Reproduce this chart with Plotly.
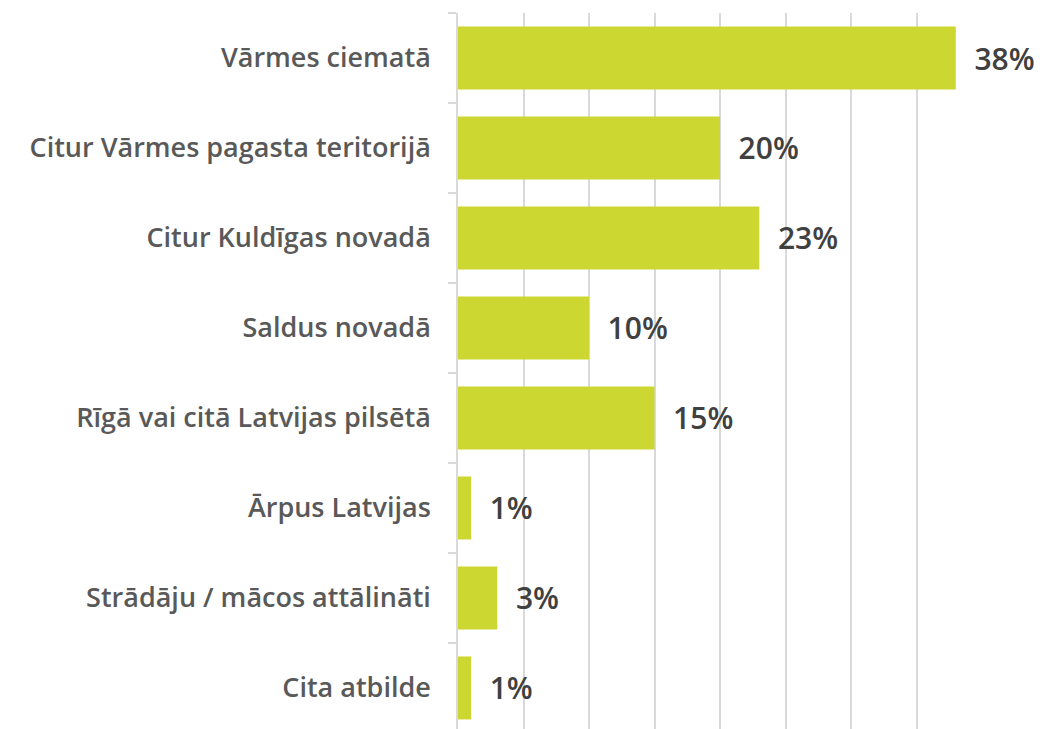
import plotly.graph_objects as go

categories = ["Vārmes ciematā", "Citur Vārmes pagasta teritorijā",
              "Citur Kuldīgas novadā", "Saldus novadā",
              "Rīgā vai citā Latvijas pilsētā", "Ārpus Latvijas",
              "Strādāju / mācos attālināti", "Cita atbilde"]
values = [38, 20, 23, 10, 15, 1, 3, 1]
labels = [f"{v}%" for v in values]

fig = go.Figure()
fig.add_trace(go.Bar(
    x=values, y=categories, orientation="h",
    marker=dict(color="#CCD831", line=dict(width=0)),
    text=labels, textposition="outside", cliponaxis=False,
    texttemplate="  %{text}",
    textfont=dict(family="Open Sans", size=30, color="#404040", weight=600),
    hoverinfo="skip",
))

fig.update_xaxes(range=[0, 40], dtick=5, showticklabels=False,
                 showgrid=True, gridcolor="#D9D9D9", gridwidth=1.5,
                 zeroline=False, showline=False)
fig.update_yaxes(range=[7.456, -0.5], showgrid=False,
                 showline=True, linecolor="#D9D9D9", linewidth=1.5,
                 ticks="outside", tickson="boundaries", ticklen=8,
                 tickcolor="#D9D9D9", tickwidth=1.5,
                 tickfont=dict(family="Open Sans", size=27, color="#595959",
                               weight=600),
                 ticklabelstandoff=20)

fig.update_layout(width=1035, height=721, bargap=0.3,
                  margin=dict(l=450, r=61, t=5, b=0),
                  plot_bgcolor="white", paper_bgcolor="white",
                  showlegend=False)

fig.write_html("out.html")
